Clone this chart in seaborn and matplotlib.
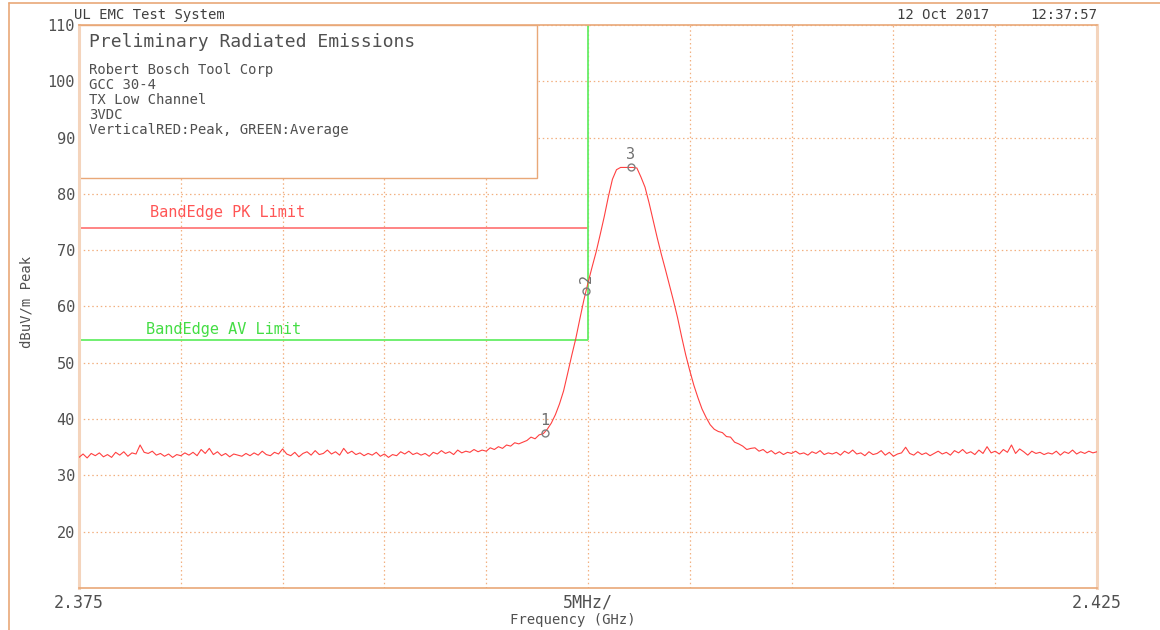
"""
Preliminary radiated emissions plot (TX low channel band edge) redrawn with seaborn.
"""
import matplotlib
matplotlib.use("Agg")
import matplotlib.pyplot as plt
from matplotlib.lines import Line2D
from matplotlib.patches import Rectangle
import numpy as np
import pandas as pd
import seaborn as sns

# ------------------------------------------------------------------
# Data
# ------------------------------------------------------------------
start_ghz = 2.375
stop_ghz = 2.425
step_ghz = 0.0002  # analyzer sweep point spacing

# noise floor 2.3750 .. 2.3968 GHz
floor_left = [
    33.2, 33.8, 33.1, 33.9, 33.5, 34.0, 33.3, 33.7, 33.2, 34.1,
    33.6, 34.2, 33.4, 34.0, 33.8, 35.4, 34.1, 33.9, 34.3, 33.6,
    33.9, 33.4, 33.8, 33.2, 33.7, 33.5, 34.0, 33.6, 34.1, 33.5,
    34.6, 33.9, 34.8, 33.7, 34.2, 33.5, 33.9, 33.3, 33.8, 33.6,
    33.4, 33.9, 33.5, 34.0, 33.6, 34.3, 33.7, 33.5, 34.1, 33.8,
    34.7, 33.8, 33.5, 34.1, 33.3, 33.9, 34.2, 33.6, 34.4, 33.7,
    33.9, 34.5, 33.8, 34.2, 33.6, 34.8, 33.9, 34.3, 33.7, 34.0,
    33.5, 33.9, 33.6, 34.1, 33.4, 33.8, 33.2, 33.7, 33.5, 34.2,
    33.8, 34.3, 33.7, 34.0, 33.6, 33.9, 33.4, 34.1, 33.8, 34.4,
    33.9, 34.2, 33.7, 34.5, 34.0, 34.3, 34.1, 34.6, 34.2, 34.5,
    34.3, 34.9, 34.6, 35.1, 34.8, 35.4, 35.2, 35.8, 35.6, 35.9,
]
# carrier 2.3970 .. 2.4080 GHz
carrier = [
    36.2, 36.8, 36.5, 37.2, 37.4, 38.2, 39.3, 40.8, 42.7, 45.0,
    48.1, 51.3, 54.3, 57.8, 61.2, 64.2, 67.0, 69.7, 72.8, 76.0,
    79.5, 82.6, 84.3, 84.7, 84.7, 84.7, 84.7, 84.6, 83.0, 81.2,
    78.4, 75.3, 72.2, 69.3, 66.6, 63.8, 61.0, 58.0, 54.6, 51.4,
    48.6, 46.0, 43.8, 41.8, 40.3, 39.0, 38.2, 37.8, 37.6, 36.9,
    36.8, 35.9, 35.6, 35.2, 34.6, 34.8,
]
# noise floor 2.4082 .. 2.4250 GHz
floor_right = [
    34.9, 34.3, 34.6, 34.0, 34.4, 33.8, 34.2, 33.7, 34.1, 33.9,
    34.3, 33.8, 34.0, 33.6, 34.2, 33.9, 34.4, 33.7, 34.0, 33.8,
    34.1, 33.6, 34.3, 33.9, 34.5, 33.8, 34.0, 33.5, 34.2, 33.7,
    33.9, 34.4, 33.6, 34.1, 33.4, 33.8, 34.0, 35.0, 33.9, 33.6,
    34.2, 33.7, 34.0, 33.5, 33.9, 34.3, 33.8, 34.1, 33.6, 34.4,
    34.0, 34.6, 33.9, 34.2, 33.7, 34.5, 33.9, 35.1, 34.0, 34.3,
    33.8, 34.6, 34.1, 35.4, 33.9, 34.7, 34.2, 33.6, 34.3, 33.9,
    34.1, 33.7, 34.0, 33.8, 34.3, 33.6, 34.2, 33.9, 34.5, 33.8,
    34.2, 33.9, 34.3, 34.0, 34.2,
]

marker_freq = [2.39789, 2.39990, 2.40211]
marker_level = [37.6, 62.7, 84.7]
marker_label = ["1", "2", "3"]

pk_limit = 74.0
av_limit = 54.0
band_edge_ghz = 2.400

y_ticks = [20, 30, 40, 50, 60, 70, 80, 90, 100, 110]
x_tick_labels = ["2.375", "", "", "", "", "5MHz/", "", "", "", "", "2.425"]

info_title = "Preliminary Radiated Emissions"
info_lines = [
    "Robert Bosch Tool Corp",
    "GCC 30-4",
    "TX Low Channel",
    "3VDC",
    "VerticalRED:Peak, GREEN:Average",
]

# ------------------------------------------------------------------
# Styling
# ------------------------------------------------------------------
ORANGE = "#E9A878"
PEACH = "#F4D4BC"
GRID = "#F2B080"
TEXT = "#505050"
RED = "#FF4040"
GREEN = "#66EE66"

sns.set_style("white")
plt.rcParams["font.family"] = ["DejaVu Sans Mono", "DejaVu Sans"]

level = floor_left + carrier + floor_right
freq = start_ghz + step_ghz * np.arange(len(level))
trace = pd.DataFrame({"freq": freq, "level": level})

fig = plt.figure(figsize=(11.6, 6.3), dpi=100)
ax = fig.add_axes([79 / 1160, 42 / 630, 1018 / 1160, 563 / 630])

# grid
ax.set_xlim(start_ghz, stop_ghz)
ax.set_ylim(10, 110)
ax.set_xticks(np.linspace(start_ghz, stop_ghz, 11))
ax.set_xticklabels(x_tick_labels)
ax.set_yticks(y_ticks)
ax.set_yticklabels([str(v) for v in y_ticks])
ax.tick_params(length=0, colors=TEXT, labelsize=11)
ax.tick_params(axis="x", labelsize=12, pad=4)
ax.tick_params(axis="y", pad=3)
ax.set_axisbelow(True)
ax.grid(True, color=GRID, linestyle=(0, (1.2, 2.2)), linewidth=0.9)

for side in ("left", "right"):
    ax.spines[side].set_color(PEACH)
    ax.spines[side].set_linewidth(2.2)
for side in ("top", "bottom"):
    ax.spines[side].set_color(ORANGE)
    ax.spines[side].set_linewidth(1.2)

# info box
ax.add_patch(Rectangle((0, 0.728), 0.45, 0.272, transform=ax.transAxes,
                       facecolor="white", edgecolor=ORANGE, lw=1.0, zorder=1))
ax.text(0.0098, 107.0, info_title, fontsize=13, color=TEXT, va="center",
        transform=ax.get_yaxis_transform(), zorder=3)
for i, line in enumerate(info_lines):
    ax.text(0.0098, 102.0 - i * 2.68, line, fontsize=10, color=TEXT,
            va="center", transform=ax.get_yaxis_transform(), zorder=3)

# limit lines
ax.hlines(pk_limit, start_ghz, band_edge_ghz, color="#FF7070", lw=1.2, zorder=2)
ax.hlines(av_limit, start_ghz, band_edge_ghz, color=GREEN, lw=1.3, zorder=2)
ax.vlines(band_edge_ghz, av_limit, 110, color=GREEN, lw=1.3, zorder=2)
ax.text(2.3785, pk_limit + 2.7, "BandEdge PK Limit", color="#FF5555",
        fontsize=11, va="center", zorder=3)
ax.text(2.3783, av_limit + 2.0, "BandEdge AV Limit", color="#44DD44",
        fontsize=11, va="center", zorder=3)

# measured trace
sns.lineplot(data=trace, x="freq", y="level", ax=ax, color=RED, lw=0.8,
             estimator=None, sort=False, zorder=4)
ax.set_xlabel("")
ax.set_ylabel("")

# markers
ax.plot(marker_freq, marker_level, linestyle="none", marker="o", ms=5,
        mfc="none", mec="#808080", mew=1.0, zorder=5)
for f, v, lab in zip(marker_freq, marker_level, marker_label):
    ax.annotate(lab, (f, v), xytext=(0, 9), textcoords="offset points",
                ha="center", va="center", fontsize=11, color="#707070",
                rotation=90 if lab == "2" else 0, zorder=5)

# page text
fig.text(74 / 1160, 1 - 15 / 630, "UL EMC Test System", fontsize=10,
         color="#404040", va="center", ha="left")
fig.text(897 / 1160, 1 - 15 / 630, "12 Oct 2017", fontsize=10,
         color="#404040", va="center", ha="left")
fig.text(1097 / 1160, 1 - 15 / 630, "12:37:57", fontsize=10,
         color="#404040", va="center", ha="right")
fig.text(27 / 1160, 1 - 302 / 630, "dBuV/m Peak", fontsize=10, color=TEXT,
         rotation=90, va="center", ha="center")
fig.text(573 / 1160, 1 - 620 / 630, "Frequency (GHz)", fontsize=10,
         color=TEXT, va="center", ha="center")

# page border
fig.add_artist(Line2D([9 / 1160, 1], [1 - 3 / 630, 1 - 3 / 630],
                      transform=fig.transFigure, color=ORANGE, lw=1.2))
fig.add_artist(Line2D([9 / 1160, 9 / 1160], [0, 1 - 3 / 630],
                      transform=fig.transFigure, color=ORANGE, lw=1.2))

fig.savefig("out.png", dpi=100)
plt.close(fig)
